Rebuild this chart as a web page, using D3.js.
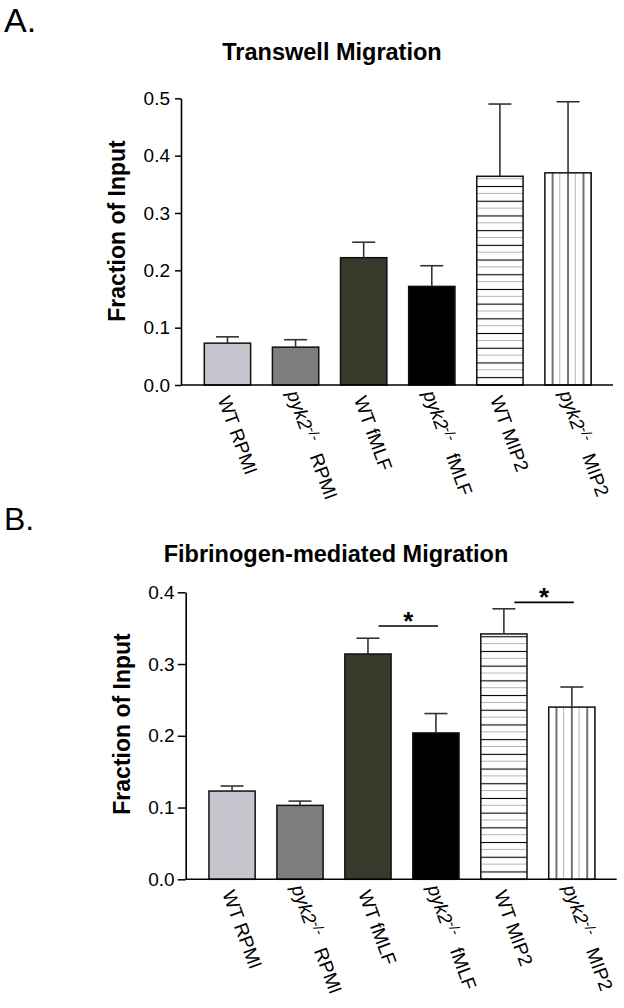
<!DOCTYPE html>
<html>
<head>
<meta charset="utf-8">
<script src="https://cdn.jsdelivr.net/npm/d3@7/dist/d3.min.js"></script>
<style>
  html, body { margin: 0; padding: 0; background: #fff; }
  svg { display: block; }
  text { font-family: Arial, "Liberation Sans", sans-serif; fill: #000; }
</style>
</head>
<body>
<svg id="chart" width="624" height="1008"></svg>
<script>
// ---------- data ----------
const genotypes  = ["WT", "pyk2", "WT", "pyk2", "WT", "pyk2"];
const treatments = ["RPMI", "RPMI", "fMLF", "fMLF", "MIP2", "MIP2"];
const categories = genotypes.map((g, i) => g + "|" + treatments[i] + "|" + i);

const transwellMean = [0.073, 0.066, 0.222, 0.172, 0.364, 0.370];
const transwellErr  = [0.011, 0.013, 0.027, 0.036, 0.126, 0.124];
const transwellTicks = [0, 0.1, 0.2, 0.3, 0.4, 0.5];

const fibMean = [0.123, 0.103, 0.314, 0.204, 0.342, 0.240];
const fibErr  = [0.007, 0.006, 0.022, 0.027, 0.035, 0.028];
const fibTicks = [0, 0.1, 0.2, 0.3, 0.4];
// significance comparisons: [from index, to index, height]
const fibSig = [[2, 3, 0.353], [4, 5, 0.386]];

const barFills = ["#c5c5cd", "#7e7e7e", "#38382b", "#000000", "hlines", "vlines"];

// ---------- drawing ----------
const svg = d3.select("#chart");
const defs = svg.append("defs");
const fmt = d3.format(".1f");

function drawPanel(p) {
  const g = svg.append("g");
  const x = d3.scaleBand().domain(categories).range([p.x0 + 1.5, p.x1]).paddingInner(0.32).paddingOuter(0.32);
  const y = d3.scaleLinear().domain([0, p.yMax]).range([p.y0, p.y1]);
  const bw = x.bandwidth();

  // patterns for this panel
  const hp = defs.append("pattern").attr("id", "hlines" + p.id)
    .attr("patternUnits", "userSpaceOnUse").attr("x", 0).attr("y", p.y0)
    .attr("width", 10).attr("height", 14.7);
  hp.append("rect").attr("width", 10).attr("height", 14.7).attr("fill", "#fff");
  hp.append("line").attr("x1", 0).attr("x2", 10).attr("y1", 7.35).attr("y2", 7.35).attr("stroke", "#000").attr("stroke-width", 1.1);
  hp.append("line").attr("x1", 0).attr("x2", 10).attr("y1", 14.7).attr("y2", 14.7).attr("stroke", "#777").attr("stroke-width", 1.1);

  const vx = x(categories[5]);
  const vs = bw / 6;
  const vp = defs.append("pattern").attr("id", "vlines" + p.id)
    .attr("patternUnits", "userSpaceOnUse").attr("x", vx).attr("y", 0)
    .attr("width", vs * 2).attr("height", 10);
  vp.append("rect").attr("width", vs * 2).attr("height", 10).attr("fill", "#fff");
  vp.append("line").attr("x1", vs).attr("x2", vs).attr("y1", 0).attr("y2", 10).attr("stroke", "#000").attr("stroke-width", 1.1);
  vp.append("line").attr("x1", vs * 2).attr("x2", vs * 2).attr("y1", 0).attr("y2", 10).attr("stroke", "#777").attr("stroke-width", 1.1);

  const fillOf = i => (barFills[i] === "hlines" || barFills[i] === "vlines") ? "url(#" + barFills[i] + p.id + ")" : barFills[i];

  // bars
  g.selectAll("rect.bar").data(p.mean).join("rect")
    .attr("class", "bar")
    .attr("x", (d, i) => x(categories[i]))
    .attr("width", bw)
    .attr("y", d => y(d))
    .attr("height", d => y(0) - y(d))
    .attr("fill", (d, i) => fillOf(i))
    .attr("stroke", "#111")
    .attr("stroke-width", 1.5);

  // error bars (upper only)
  const eb = g.selectAll("g.err").data(p.mean).join("g").attr("class", "err")
    .attr("stroke", "#333").attr("stroke-width", 1.6);
  eb.append("line")
    .attr("x1", (d, i) => x(categories[i]) + bw / 2)
    .attr("x2", (d, i) => x(categories[i]) + bw / 2)
    .attr("y1", d => y(d))
    .attr("y2", (d, i) => y(d + p.err[i]));
  eb.append("line")
    .attr("x1", (d, i) => x(categories[i]) + bw / 2 - 11.5)
    .attr("x2", (d, i) => x(categories[i]) + bw / 2 + 11.5)
    .attr("y1", (d, i) => y(d + p.err[i]))
    .attr("y2", (d, i) => y(d + p.err[i]));

  // x axis line
  g.append("line").attr("x1", p.x0).attr("x2", p.x1).attr("y1", y(0)).attr("y2", y(0))
    .attr("stroke", "#000").attr("stroke-width", 1.6);

  // y axis
  const ya = g.append("g").attr("transform", `translate(${p.x0},0)`)
    .call(d3.axisLeft(y).tickValues(p.ticks).tickFormat(fmt).tickSize(p.tickSize).tickSizeOuter(0).tickPadding(p.tickPad));
  ya.select(".domain").attr("stroke", "#000").attr("stroke-width", 1.6);
  ya.selectAll(".tick line").attr("stroke", "#000").attr("stroke-width", 1.5);
  ya.selectAll(".tick text").attr("font-size", 19).attr("font-family", "Arial, 'Liberation Sans', sans-serif").attr("fill", "#000");

  // x labels, rotated
  const labels = g.selectAll("text.xl").data(categories).join("text")
    .attr("class", "xl")
    .attr("font-size", 19)
    .attr("transform", (d, i) => {
      const cx = x(d) + bw / 2;
      const isKO = genotypes[i] !== "WT";
      return `translate(${cx + (isKO ? -9 : -10)},${y(0) + (isKO ? 8.5 : 14)}) rotate(70)`;
    });
  labels.each(function (d, i) {
    const t = d3.select(this);
    if (genotypes[i] === "WT") {
      t.text(genotypes[i] + " " + treatments[i]);
    } else {
      t.append("tspan").attr("font-style", "italic").text(genotypes[i]);
      t.append("tspan").attr("font-size", 14.5).attr("dy", -7).text("-/-");
      t.append("tspan").attr("dy", 7).attr("dx", 13).text(treatments[i]);
    }
  });

  // y title
  g.append("text").attr("transform", `translate(${p.yTitleX},${p.yTitleY}) rotate(-90)`)
    .attr("text-anchor", "middle").attr("font-weight", "bold").attr("font-size", 23)
    .text("Fraction of Input");

  // title
  g.append("text").attr("x", p.titleX).attr("y", p.titleY)
    .attr("text-anchor", "middle").attr("font-weight", "bold").attr("font-size", 23.5)
    .text(p.title);

  // panel letter
  g.append("text").attr("x", 4).attr("y", p.letterY).attr("font-size", p.letterSize).text(p.letter);

  // significance
  (p.sig || []).forEach(s => {
    const xa = x(categories[s[0]]) + bw / 2 + 10.5;
    const xb = x(categories[s[1]]) + bw / 2 + 2;
    const ys = y(s[2]);
    g.append("line").attr("x1", xa).attr("x2", xb).attr("y1", ys).attr("y2", ys)
      .attr("stroke", "#000").attr("stroke-width", 1.6);
    g.append("text").attr("x", (xa + xb) / 2).attr("y", ys + 4).attr("text-anchor", "middle")
      .attr("font-weight", "bold").attr("font-size", 26).text("*");
  });
}

drawPanel({
  id: "A", letter: "A.", letterY: 32, letterSize: 34,
  title: "Transwell Migration", titleX: 332, titleY: 60,
  x0: 181, x1: 613, y0: 385, y1: 98.3, yMax: 0.5, ticks: transwellTicks,
  mean: transwellMean, err: transwellErr,
  yTitleX: 124.5, yTitleY: 231, tickSize: 6, tickPad: 5, sig: []
});

drawPanel({
  id: "B", letter: "B.", letterY: 530, letterSize: 32,
  title: "Fibrinogen-mediated Migration", titleX: 336, titleY: 562,
  x0: 185.7, x1: 616.7, y0: 879.3, y1: 592.3, yMax: 0.4, ticks: fibTicks,
  mean: fibMean, err: fibErr,
  yTitleX: 130, yTitleY: 724, tickSize: 8, tickPad: 3, sig: fibSig
});
</script>
</body>
</html>
